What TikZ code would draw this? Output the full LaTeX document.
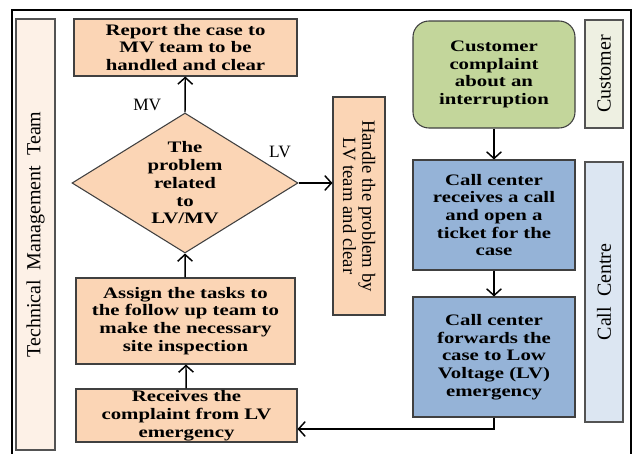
\documentclass[tikz,border=0pt]{standalone}
\usepackage{fontspec}
\usepackage{tikz}
\usetikzlibrary{shapes.geometric,arrows.meta}
\setmainfont{Liberation Serif}
\newfontfamily\boxfont[FakeStretch=1.3]{Liberation Serif}
\definecolor{peach}{HTML}{FBD5B5}
\definecolor{palepeach}{HTML}{FDF1E7}
\definecolor{olive}{HTML}{C3D69B}
\definecolor{paleolive}{HTML}{EEF0E2}
\definecolor{steel}{HTML}{95B3D7}
\definecolor{paleblue}{HTML}{DCE6F2}
\definecolor{edge}{HTML}{404040}

\begin{document}
\begin{tikzpicture}[x=0.75pt, y=-0.75pt,
    box/.style={draw=edge, line width=0.8pt, align=center, inner sep=0pt,
        font=\boxfont\bfseries\fontsize{12}{13.3}\selectfont},
    lane/.style={draw=edge!90, line width=0.8pt, inner sep=0pt,
        font=\fontsize{15}{18}\selectfont},
    flow/.style={-{Straight Barb[length=5pt,width=11pt]}, line width=1.1pt}]
    \useasboundingbox (0,0) rectangle (633,454);
    % Frame
    \draw[line width=2pt] (12,454) -- (12,10) -- (631,10) -- (631,454);
    % Lanes
    \node[lane, fill=palepeach, minimum height=29.25pt, minimum width=323.25pt, rotate=90]
        (tmt) at (35.5,234.5) {Technical\ \ Management\ \ Team};
    \node[lane, fill=paleolive, minimum height=28.5pt, minimum width=81pt, rotate=90]
        (custlane) at (604,74) {Customer};
    \node[lane, fill=paleblue, minimum height=28.5pt, minimum width=195pt, rotate=90]
        (calllane) at (604,292) {Call\ \ Centre};
    % Technical management team
    \node[box, fill=peach, minimum width=167.25pt, minimum height=42.75pt]
        (report) at (185.5,47.5) {Report the case to\\MV team to be\\handled and clear};
    \node[box, fill=peach, shape=diamond, aspect=1.61, inner sep=-18pt,
        minimum width=169.5pt, minimum height=105pt]
        (problem) at (185,183) {The\\problem\\related\\to\\LV/MV};
    \node[box, fill=peach, minimum width=39pt, minimum height=163.5pt]
        (handle) at (359,206) {};
    \node[align=center, rotate=-90, font=\fontsize{14}{14.5}\selectfont, inner sep=0pt]
        (handletext) at (handle) {Handle the problem by\\LV team and clear};
    \node[box, fill=peach, minimum width=164.25pt, minimum height=64.5pt]
        (assign) at (185.5,321) {Assign the tasks to\\the follow up team to\\make the necessary\\site inspection};
    \node[box, fill=peach, minimum width=165.75pt, minimum height=39.75pt]
        (receive) at (186.5,415.5) {Receives the\\complaint from LV\\emergency};
    % Customer and call centre
    \node[box, fill=olive, rounded corners=12pt, minimum width=121.5pt, minimum height=80.25pt]
        (complaint) at (494,74.5) {Customer\\complaint\\about an\\interruption};
    \node[box, fill=steel, minimum width=121.5pt, minimum height=82.5pt]
        (ticket) at (494,215) {Call center\\receives a call\\and open a\\ticket for the\\case};
    \node[box, fill=steel, minimum width=121.5pt, minimum height=90pt]
        (forward) at (494,357) {Call center\\forwards the\\case to Low\\Voltage (LV)\\emergency};
    % Connectors
    \coordinate (turn) at (494,429);
    \draw[flow] (complaint) -- (ticket);
    \draw[flow] (ticket) -- (forward);
    \draw[flow] (forward) -- (turn) -- (turn -| receive.east);
    \draw[flow] (receive) -- (assign);
    \draw[flow] (assign) -- (problem.south);
    \draw[flow] (problem.north) -- (report) node[pos=0.2, left=14pt, font=\fontsize{13}{13}\selectfont] {MV};
    \draw[flow] (problem.east) -- (problem.east -| handle.west);
    \node[font=\fontsize{13}{13}\selectfont] (lvlabel) at (280,152) {LV};
\end{tikzpicture}
\end{document}
